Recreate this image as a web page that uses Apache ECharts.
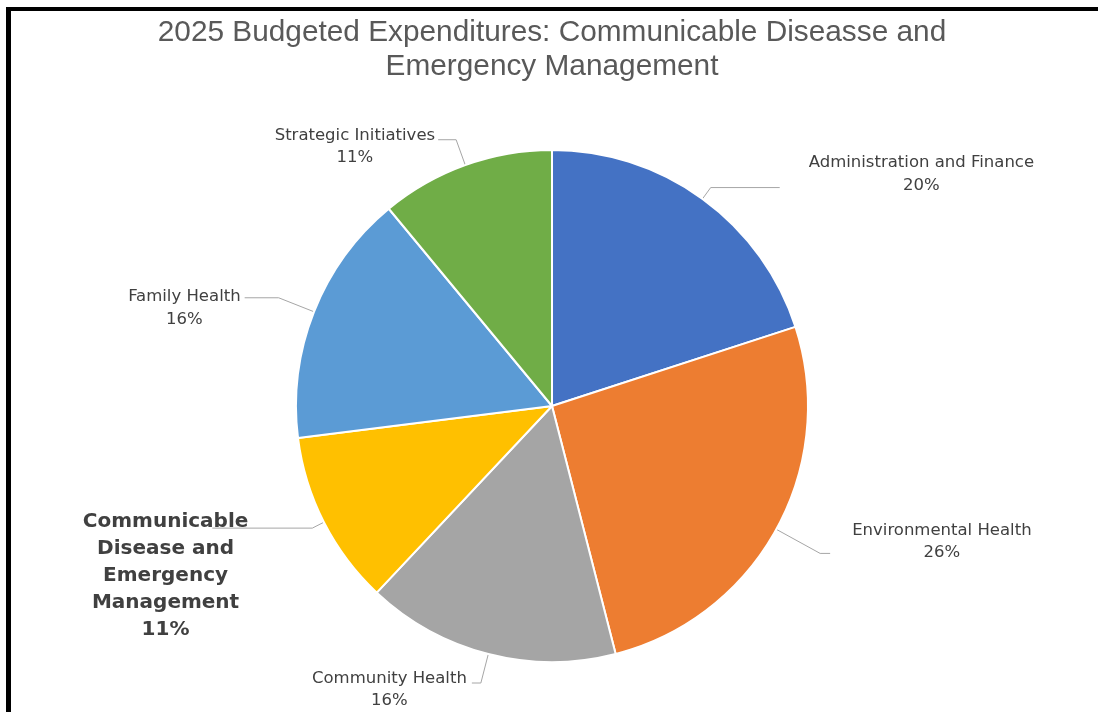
<!DOCTYPE html>
<html>
<head>
<meta charset="utf-8">
<script src="https://cdn.jsdelivr.net/npm/echarts@6/dist/echarts.min.js"></script>
<style>
  html, body { margin: 0; padding: 0; background: #fff; overflow: hidden; }
  #chart { position: absolute; left: 0; top: 0; width: 1098px; height: 712px; }
  #frame {
    position: absolute; left: 6px; top: 7px; width: 1092px; height: 705px;
    border-top: 4px solid #000; border-left: 5px solid #000;
    box-sizing: border-box; pointer-events: none;
  }
</style>
</head>
<body>
<div id="chart"></div>
<div id="frame"></div>
<script>
// Title text
const titleText = '2025 Budgeted Expenditures: Communicable Diseasse and\nEmergency Management';

// Program areas, clockwise from 12 o'clock
const categories = [
  'Administration and Finance',
  'Environmental Health',
  'Community Health',
  'Communicable\nDisease and\nEmergency\nManagement',
  'Family Health',
  'Strategic Initiatives'
];

// Share of the budget, percent
const shares = [20, 26, 16, 11, 16, 11];

// Slice colours
const sliceColors = ['#4472C4', '#ED7D31', '#A5A5A5', '#FFC000', '#5B9BD5', '#70AD47'];

// The program area this report focuses on (drawn with a larger bold label)
const focusIndex = 3;

// Leader-line lengths and label offsets for each slice
const leaderStyle = [
  { length: 14, length2: 69, gap: 29,  padding: [0, 0, 27, 0] },
  { length: 50, length2: 10, gap: 22,  padding: [0, 0, 23, 0] },
  { length: 30, length2: 9,  gap: 5,   padding: [13, 0, 0, 0] },
  { length: 13, length2: 100, gap: -36, padding: [95, 0, 0, 0] },
  { length: 38, length2: 34, gap: 4,   padding: [21, 0, 0, 0] },
  { length: 27, length2: 18, gap: 3,   padding: [14, 0, 0, 0] }
];

const seriesData = categories.map((name, i) => ({
  name: name,
  value: shares[i],
  itemStyle: { color: sliceColors[i] },
  labelLine: { length: leaderStyle[i].length, length2: leaderStyle[i].length2 },
  label: { distanceToLabelLine: leaderStyle[i].gap, padding: leaderStyle[i].padding }
}));

const chart = echarts.init(document.getElementById('chart'), null, { renderer: 'canvas' });

chart.setOption({
  animation: false,
  backgroundColor: '#ffffff',
  title: {
    text: titleText,
    left: 552,
    top: 16,
    padding: 0,
    textAlign: 'center',
    textStyle: {
      fontFamily: 'Liberation Sans',
      fontSize: 29.8,
      fontWeight: 'normal',
      lineHeight: 34,
      color: '#595959'
    }
  },
  series: [{
    type: 'pie',
    center: [552, 406],
    radius: 256,
    startAngle: 90,
    clockwise: true,
    avoidLabelOverlap: false,
    emphasis: { disabled: true },
    itemStyle: { borderColor: '#ffffff', borderWidth: 2 },
    labelLine: {
      show: true,
      smooth: false,
      lineStyle: { color: '#A6A6A6', width: 1 }
    },
    label: {
      show: true,
      position: 'outside',
      formatter: function (p) {
        const key = p.dataIndex === focusIndex ? 'b' : 'n';
        return p.name.split('\n').concat([p.value + '%'])
          .map(s => '{' + key + '|' + s + '}').join('\n');
      },
      rich: {
        n: {
          fontFamily: 'DejaVu Sans',
          fontSize: 16.5,
          lineHeight: 22.5,
          color: '#404040',
          align: 'center'
        },
        b: {
          fontFamily: 'DejaVu Sans',
          fontSize: 20,
          fontWeight: 'bold',
          lineHeight: 27,
          color: '#404040',
          align: 'center'
        }
      }
    },
    data: seriesData
  }]
});
</script>
</body>
</html>
